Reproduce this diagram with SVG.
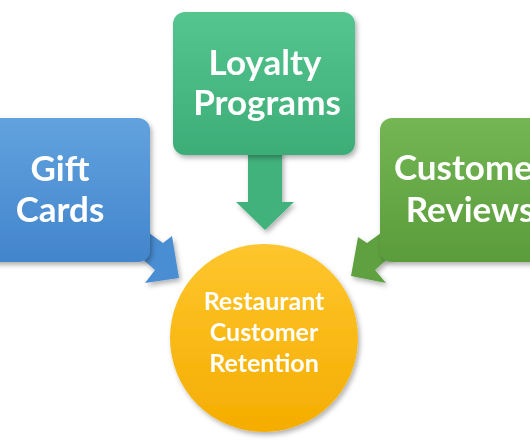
<svg xmlns="http://www.w3.org/2000/svg" width="530" height="442" viewBox="0 0 530 442">
<defs>
<linearGradient id="gBlue" x1="0" y1="0" x2="0" y2="1"><stop offset="0" stop-color="#62a2de"/><stop offset="1" stop-color="#4285cc"/></linearGradient>
<linearGradient id="gTeal" x1="0" y1="0" x2="0" y2="1"><stop offset="0" stop-color="#55c590"/><stop offset="1" stop-color="#3dad77"/></linearGradient>
<linearGradient id="gGreen" x1="0" y1="0" x2="0" y2="1"><stop offset="0" stop-color="#74b654"/><stop offset="1" stop-color="#5a9c3b"/></linearGradient>
<linearGradient id="gGold" x1="0" y1="0" x2="0" y2="1"><stop offset="0" stop-color="#fec62e"/><stop offset="1" stop-color="#f5ad00"/></linearGradient>
<filter id="sh" x="-20%" y="-20%" width="140%" height="140%"><feDropShadow dx="2" dy="3" stdDeviation="2.5" flood-color="#000" flood-opacity="0.3"/></filter>
</defs>
<style>
.big{font-family:Lato,"Open Sans",sans-serif;font-weight:700;font-size:35px;fill:#fff;text-anchor:middle}
.small{font-family:Lato,"Open Sans",sans-serif;font-weight:700;font-size:25px;fill:#fff;text-anchor:middle}
</style>
<rect width="530" height="442" fill="#fff"/>
<g id="connectors" filter="url(#sh)">
<polygon points="142,228 163,243 172,236 179,278 145,283 155,270 131,249" fill="#4a8dd2"/>
<polygon points="248,150 282,150 282,202 294,202 265,230 236,202 248,202" fill="#43b27c"/>
<polygon points="388,228 367,243 358,237 351,276 386,283 375,270 399,249" fill="#5fa040"/>
</g>
<g id="gift" filter="url(#sh)">
<rect x="-30" y="118" width="180" height="144" rx="12" fill="url(#gBlue)"/>
<text class="big" x="60" y="181">Gift</text>
<text class="big" x="60" y="222">Cards</text>
</g>
<g id="loyalty" filter="url(#sh)">
<rect x="173" y="12" width="182" height="143" rx="12" fill="url(#gTeal)"/>
<text class="big" x="265" y="75">Loyalty</text>
<text class="big" x="267" y="115">Programs</text>
</g>
<g id="reviews" filter="url(#sh)">
<rect x="380" y="118" width="180" height="144" rx="12" fill="url(#gGreen)"/>
<text class="big" x="470" y="180">Customer</text>
<text class="big" x="470" y="222">Reviews</text>
</g>
<g id="retention" filter="url(#sh)">
<circle cx="264" cy="338" r="94" fill="url(#gGold)"/>
<text class="small" x="264" y="310">Restaurant</text>
<text class="small" x="264" y="341">Customer</text>
<text class="small" x="264" y="372">Retention</text>
</g>
</svg>
